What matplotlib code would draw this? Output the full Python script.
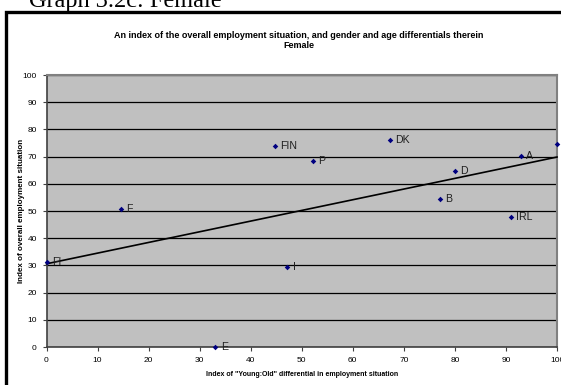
import numpy as np
import matplotlib
matplotlib.use("Agg")
import matplotlib.pyplot as plt
from matplotlib.patches import Rectangle

# Country codes and their index values
countries = ["FI", "F", "E", "I", "FIN", "P", "DK", "A", "D", "B", "IRL", "L"]
young_old = [0.0, 14.6, 33.1, 47.2, 44.7, 52.2, 67.2, 92.9, 80.0, 77.1, 90.9, 100.0]
overall = [31.4, 50.7, 0.0, 29.5, 73.9, 68.4, 76.1, 70.2, 64.6, 54.5, 47.9, 74.6]

W, H = 561, 385
fig = plt.figure(figsize=(W / 100, H / 100), dpi=100)
fig.patch.set_facecolor("white")

def fx(px):
    return px / W

def fy(py):
    return 1 - py / H

# Outer frame of the chart object
fig.patches.append(Rectangle((fx(6), fy(420)), fx(600), fy(12) - fy(420),
                             transform=fig.transFigure, fill=False,
                             edgecolor="black", linewidth=2.4, zorder=0))

# Document caption above the chart
fig.text(fx(29), fy(7), "Graph 3.2c: Female", family="Liberation Serif",
         fontsize=17.5, va="baseline", ha="left")

left, right, top, bottom = 46.5, 557, 75, 347
ax = fig.add_axes([fx(left), fy(bottom), fx(right - left), fy(top) - fy(bottom)])
ax.set_facecolor("#C0C0C0")
ax.set_xlim(0, 100)
ax.set_ylim(0, 100)
ax.set_xticks(np.arange(0, 101, 10))
ax.set_yticks(np.arange(0, 101, 10))
ax.yaxis.grid(True, color="black", linewidth=0.9)
ax.set_axisbelow(True)
for s in ["top", "right"]:
    ax.spines[s].set_color("#808080")
    ax.spines[s].set_linewidth(1.5)
for s in ["left", "bottom"]:
    ax.spines[s].set_color("#404040")
    ax.spines[s].set_linewidth(1.2)
ax.tick_params(direction="out", length=3, width=0.8, colors="#404040",
               labelcolor="black", labelsize=6, pad=4)
for lbl in ax.get_xticklabels() + ax.get_yticklabels():
    lbl.set_family("Liberation Sans")

# Linear trend through the scatter
slope, intercept = np.polyfit(young_old, overall, 1)
xs = np.array([0.0, 100.0])
ax.plot(xs, intercept + slope * xs, color="black", linewidth=1.2, zorder=3,
        clip_on=False)

ax.scatter(young_old, overall, marker="D", s=8, color="#000080", zorder=4,
           clip_on=False, linewidths=0)
for name, x, y in zip(countries, young_old, overall):
    ax.annotate(name, (x, y), xytext=(3.8, 0), textcoords="offset points",
                va="center", ha="left", fontsize=7.6, color="#202020",
                family="Liberation Sans", zorder=5)

ax.set_xlabel("Index of \"Young:Old\" differential in employment situation",
              fontsize=5, fontweight="bold", family="Liberation Sans", labelpad=5)
ax.set_ylabel("Index of overall employment situation", fontsize=5.8,
              fontweight="bold", family="Liberation Sans")
ax.yaxis.set_label_coords((25 - left) / (right - left), 0.5)

fig.text(fx(299), fy(35), "An index of the overall employment situation, and gender and age differentials therein",
         fontsize=6.5, fontweight="bold", family="Liberation Sans", ha="center", va="center")
fig.text(fx(299), fy(46), "Female", fontsize=6.5, fontweight="bold",
         family="Liberation Sans", ha="center", va="center")

fig.savefig("out.png", dpi=100)
